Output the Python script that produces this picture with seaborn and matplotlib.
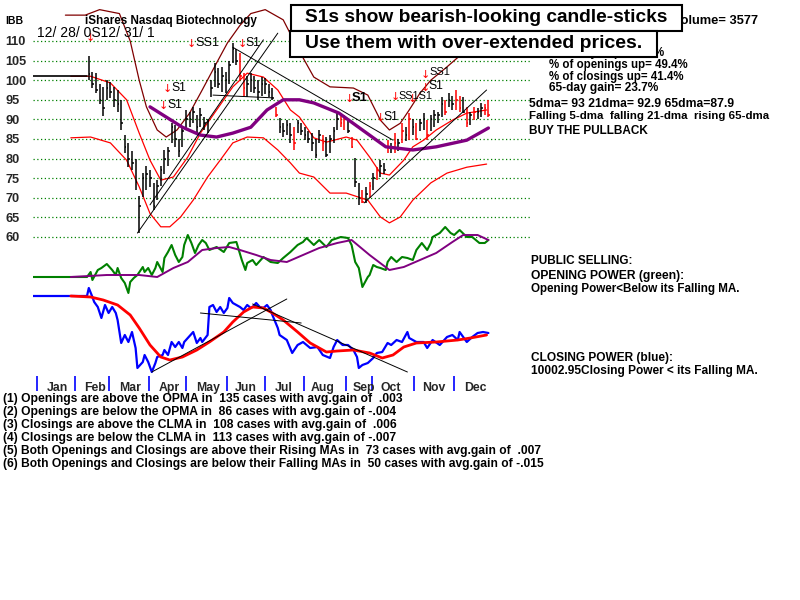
import numpy as np
import pandas as pd
import matplotlib
matplotlib.use("Agg")
import matplotlib.pyplot as plt
from matplotlib.patches import Rectangle
import seaborn as sns

# ---------------- data ----------------
ticker = "IBB"
chart_title = "iShares Nasdaq Biotechnology"
date_range = "12/ 28/ 0S12/ 31/ 1"
price_ticks = [60, 65, 70, 75, 80, 85, 90, 95, 100, 105, 110]

pre_days = [0, 30]
pre_price = [101, 101]

bar_hi = [106.2, 102, 101.8, 99, 98.3, 100, 99.5, 98.3, 97.5, 95,
          86, 84, 82, 80, 70.5, 76.3, 78, 77, 73.8, 74.5,
          78, 82.2, 83, 89, 88.5, 85, 88, 92.4, 92, 93.2,
          91, 93, 90.6, 90, 100, 104.4, 103, 103.4, 102, 105,
          109.5, 108, 107, 101.8, 101, 101.8, 101, 100, 100.8, 100.5,
          99, 98, 93.2, 90.4, 89, 89.8, 89, 88, 89.8, 89,
          88, 87, 86.5, 85, 87.3, 86, 85.5, 86, 88, 91.6,
          91, 91.1, 90, 85.5, 80.2, 73.8, 72, 72.8, 74, 76.3,
          77.9, 79.6, 79, 84.7, 84, 86.5, 85, 89, 88, 91.6,
          90, 89, 90, 91.6, 89.8, 91, 92.4, 92, 95.7, 95,
          96.7, 96, 97.5, 96, 95.7, 93.2, 92, 93.2, 93, 94.2, 94, 95]
bar_lo = [100, 98, 96.7, 94, 90.8, 95, 95.5, 93.2, 92, 87.3,
          81.4, 77.9, 77, 72, 61, 70.2, 72, 72.8, 66.9, 69.4,
          73, 76, 78, 84, 83, 80.4, 83, 87.3, 88, 89,
          86, 88, 87.3, 86.5, 95.7, 98.3, 98, 97, 96.7, 99,
          104.4, 104, 100, 96, 95.7, 97, 96.7, 95, 96, 96.5,
          95.7, 95, 90.6, 86.5, 85.5, 86, 84, 82.2, 86.5, 86,
          84.7, 84, 82, 80.2, 84, 82, 80.4, 81.5, 84, 87.3,
          88, 87.3, 86.5, 82.7, 72.8, 68.2, 68.7, 68.7, 70, 72,
          74.5, 75.3, 76, 81.4, 81.4, 81.4, 82, 84, 84.5, 84.7,
          86, 84.7, 87, 87.3, 84.7, 87, 88, 89, 90.6, 91,
          93.2, 92.4, 92.4, 92, 91.6, 88, 88.5, 89.8, 90, 90.6, 91, 90.6]
bar_close = [101.5, 99, 97.5, 95, 93, 98, 97, 95, 94, 89,
             83, 80, 79, 74, 68, 75, 76, 75, 68, 73,
             77, 80, 82, 88, 85, 82, 87, 90, 90, 92,
             88, 91, 89, 89.5, 98, 102, 99, 101, 100, 104,
             108, 105, 101, 98, 99, 100, 98, 97, 99, 99,
             97, 95.5, 91, 88, 87, 88.5, 86, 84, 89, 87,
             86, 85, 84, 81, 86, 84, 81, 85, 87, 90,
             89, 90, 87, 83, 74, 70, 69, 71, 73, 75,
             77, 78, 77, 83, 83, 84, 84, 87, 86, 90,
             88, 85, 89, 90, 86, 90, 91, 91, 94, 92,
             95, 94, 95, 93, 92, 89, 91, 92, 92, 93, 93, 91]
down_bars = [42, 43, 52, 57, 65, 70, 71, 73, 76, 78, 80, 83, 85, 87, 89,
             91, 94, 99, 102, 103, 105, 107, 110, 111]

ma21_days = [21, 32, 43, 52, 59, 65, 71, 78, 86, 93, 102, 111, 119, 128, 136, 143,
             148, 156, 163, 174, 180, 187, 193, 198, 206, 211, 217, 224, 233, 241, 252]
ma21_vals = [101, 101, 99.3, 95, 86.5, 79.6, 74.5, 75.3, 80.4, 86.5, 92.4, 98.3, 101.8,
             100.8, 97.5, 92.4, 90.6, 85.3, 84.2, 85.5, 84.7, 80.4, 76.3, 75.8, 79.6,
             83, 84.7, 87.3, 89.8, 91.6, 92.4]
lband_days = [21, 32, 43, 52, 59, 65, 71, 76, 82, 89, 97, 104, 111, 119, 128, 136, 143,
              148, 156, 165, 174, 186, 193, 198, 204, 211, 221, 230, 241, 252]
lband_vals = [85.3, 85.5, 84, 79.6, 72.8, 66, 62.6, 62.6, 65.1, 69.4, 75.3, 79.6, 84,
              85.5, 85.3, 82.2, 78.9, 76.3, 75.3, 71.2, 71.2, 69.4, 65.1, 63.6, 65.1,
              69.4, 73.8, 76.3, 77.8, 78.6]
uband_days = [18, 29, 37, 48, 54, 59, 63, 69, 74, 80, 87, 94, 102, 108, 115, 121, 129,
              139, 147, 156, 165, 178, 186, 193, 198, 204, 209, 215, 221, 230, 237, 246, 253]
uband_vals = [116.6, 116.6, 118, 117, 110, 100, 93.2, 87.3, 85.5, 87.3, 91.6, 97.5,
              104.4, 109.5, 114, 117, 118, 115.4, 108.2, 100.8, 98.3, 98, 96.2, 89.8,
              87.3, 89, 92.4, 96.7, 100, 103.4, 106.2, 110.3, 114]
ma65_days = [65, 74, 83, 93, 102, 111, 121, 130, 139, 148, 156, 170, 183, 196, 211,
             224, 241, 248, 253]
ma65_vals = [93.2, 90.6, 88, 86, 85.5, 86.5, 88, 92.4, 95, 95, 94.2, 91.6, 87.3, 83,
             82.2, 83, 84.7, 86.5, 87.8]

# trend lines drawn on the price panel: (day0, day1), (price0, price1)
price_trends = [((58, 136), (61, 112)), ((65, 128), (68.2, 110.3)),
                ((111, 200), (108.4, 84.7)), ((100, 133), (96.2, 95.5)),
                ((184, 252), (68.7, 97.5))]

# Opening power (green) and its MA (purple), arbitrary units
op_days = [0, 30, 32, 33, 36, 38, 41, 44, 46, 47, 49, 51, 53, 54, 56, 58, 61, 62, 64, 66,
           68, 69, 72, 73, 75, 77, 79, 81, 83, 84, 86, 88, 90, 92, 94, 96, 98, 102, 106, 109,
           113, 116, 118, 119, 122, 124, 128, 132, 136, 139, 143, 147, 150, 152, 156, 159,
           163, 166, 171, 175, 177, 179, 181, 183, 186, 187, 189, 191, 193, 196, 197, 199,
           202, 205, 208, 211, 213, 216, 219, 221, 222, 226, 229, 232, 234, 237, 241, 244,
           248, 251, 253]
op_vals = [23, 23, 28, 20, 30, 32, 36, 30, 25, 32, 22, 17, 7, 18, 22, 25, 33, 28, 32, 25,
           32, 38, 28, 42, 48, 55, 45, 38, 43, 55, 65, 57, 47, 55, 60, 57, 50, 53, 48, 57,
           58, 40, 30, 37, 40, 35, 43, 38, 37, 42, 48, 55, 58, 62, 55, 60, 53, 60, 63, 62,
           55, 38, 32, 13, 23, 25, 35, 33, 32, 30, 38, 43, 38, 43, 42, 40, 50, 57, 50, 57,
           63, 67, 73, 67, 65, 70, 63, 63, 57, 57, 60]
opma_days = [21, 41, 59, 69, 78, 86, 94, 102, 109, 115, 124, 132, 141, 150, 159, 169, 177,
             187, 198, 206, 215, 224, 233, 239, 247, 253]
opma_vals = [23, 25, 25, 23, 32, 38, 50, 52, 53, 50, 45, 40, 38, 45, 52, 57, 60, 45, 30,
             33, 40, 47, 58, 65, 65, 60]

# Closing power (blue) and its MA (red), arbitrary units
cp_days = [0, 30, 31, 33, 34, 36, 38, 40, 42, 44, 46, 47, 49, 51, 53, 55, 57, 58, 61, 62,
           64, 66, 68, 69, 72, 73, 75, 77, 79, 81, 83, 84, 86, 89, 91, 93, 94, 97, 98, 100,
           102, 104, 106, 108, 109, 111, 113, 115, 117, 119, 121, 122, 124, 126, 128, 130,
           132, 133, 136, 137, 141, 144, 147, 150, 154, 158, 161, 165, 167, 169, 172, 175,
           178, 180, 181, 183, 186, 189, 191, 194, 197, 199, 202, 205, 208, 209, 213, 217,
           219, 222, 226, 230, 233, 236, 237, 241, 244, 247, 250, 253]
cp_vals = [84, 84, 92, 83, 78, 73, 62, 75, 67, 73, 67, 60, 37, 45, 38, 48, 32, 12, 18, 25,
           18, 8, 17, 23, 25, 30, 25, 38, 33, 38, 32, 38, 42, 48, 37, 42, 38, 45, 73, 75,
           68, 73, 67, 72, 82, 77, 75, 73, 70, 75, 72, 73, 77, 73, 72, 75, 70, 65, 52, 45,
           40, 27, 35, 38, 32, 33, 25, 22, 33, 40, 35, 35, 30, 23, 12, 15, 17, 22, 27, 28,
           37, 35, 40, 38, 48, 42, 38, 38, 32, 40, 35, 43, 45, 40, 48, 38, 43, 47, 48, 47]
cpma_days = [21, 32, 39, 47, 54, 59, 65, 71, 76, 83, 91, 98, 106, 111, 117, 122, 128, 133,
             139, 147, 154, 163, 169, 178, 187, 194, 200, 206, 213, 224, 236, 243, 252]
cpma_vals = [84, 83, 80, 75, 65, 52, 35, 23, 20, 23, 30, 38, 48, 58, 68, 73, 72, 67, 60,
             48, 37, 28, 29, 30, 27, 22, 25, 33, 37, 38, 40, 42, 45]
cp_trends = [((66, 141), (8, 81)), ((93, 149), (67, 57)), ((122, 208), (76, 8))]

months = ["Jan", "Feb", "Mar", "Apr", "May", "Jun", "Jul", "Aug", "Sep", "Oct", "Nov", "Dec"]
month_ticks = [2.2, 23.3, 42.2, 64.4, 85, 107.8, 128.9, 150.6, 173.9, 188.3, 211.7, 233.9]
month_label_days = [13.3, 34.4, 53.9, 75.6, 97.2, 118.3, 139.4, 161.1, 183.9, 198.9, 222.8, 245.6]

headline_1 = "S1s show bearish-looking candle-sticks"
headline_2 = "Use them with over-extended prices."
stats_right = ["% of openings up= 49.4%", "% of closings up= 41.4%", "65-day gain= 23.7%"]
ma_lines = ["5dma= 93 21dma= 92.9 65dma=87.9", "Falling 5-dma  falling 21-dma  rising 65-dma",
            "BUY THE PULLBACK"]
bottom_stats = [
    "(1) Openings are above the OPMA in  135 cases with avg.gain of  .003",
    "(2) Openings are below the OPMA in  86 cases with avg.gain of -.004",
    "(3) Closings are above the CLMA in  108 cases with avg.gain of  .006",
    "(4) Closings are below the CLMA in  113 cases with avg.gain of -.007",
    "(5) Both Openings and Closings are above their Rising MAs in  73 cases with avg.gain of  .007",
    "(6) Both Openings and Closings are below their Falling MAs in  50 cases with avg.gain of -.015",
]

# ---------------- figure ----------------
sns.set_style("white")
WIDE = ["Liberation Sans", "DejaVu Sans"]
NARROW = ["Liberation Sans Narrow", "Liberation Sans", "DejaVu Sans"]
plt.rcParams["font.family"] = WIDE

W, H = 800, 600
fig = plt.figure(figsize=(8, 6), dpi=100)
fig.patch.set_facecolor("white")
R = fig.canvas.get_renderer()


def fx(x):
    return x / W


def fy(y):
    return 1 - y / H


DAY_PX = 1.8
XMAX = 497 / DAY_PX


def put(x, y, s, width=None, size=9, family=WIDE, weight="bold", color="black",
        ha="left", zorder=10):
    t = fig.text(fx(x), fy(y), s, fontsize=size, family=family, weight=weight,
                 color=color, ha=ha, va="center", zorder=zorder)
    if width:
        w = t.get_window_extent(renderer=R).width
        t.set_fontsize(size * width / w)
    return t


def line(ax, xs, ys, color, lw, z=3):
    sns.lineplot(x=xs, y=ys, ax=ax, color=color, lw=lw, sort=False,
                 estimator=None, zorder=z, legend=False)


def bare(ax):
    for s in ax.spines.values():
        s.set_visible(False)
    ax.patch.set_alpha(0)
    ax.set_xlabel("")
    ax.set_ylabel("")


# price panel
ax = fig.add_axes([fx(33), fy(240), 497 / W, 240 / H])
ax.set_xlim(0, XMAX)
ax.set_ylim(59.23, 120.46)
ax.set_yticks(price_ticks)
ax.set_yticklabels([str(v) for v in price_ticks], fontsize=9.2, weight="bold", family=WIDE)
for lab in ax.get_yticklabels():
    lab.set_ha("left")
ax.tick_params(axis="y", length=0, pad=20)
ax.set_xticks([])
ax.grid(axis="y", color="#008000", linestyle=(0, (1, 2)), lw=0.9)
ax.set_axisbelow(True)

line(ax, pre_days, pre_price, "black", 1.2)
line(ax, uband_days, uband_vals, "#800000", 0.9, 2)
line(ax, lband_days, lband_vals, "#ff0000", 0.9, 2)
line(ax, ma21_days, ma21_vals, "#ff0000", 0.9, 2)

bar_days = np.arange(31, 31 + 2 * len(bar_hi), 2)
cols = ["#ff0000" if i in down_bars else "black" for i in range(len(bar_hi))]
ax.vlines(bar_days, bar_lo, bar_hi, colors=cols, lw=1.1, zorder=3)
ax.hlines(bar_close, bar_days, bar_days + 0.9, colors=cols, lw=1.1, zorder=3)

line(ax, ma65_days, ma65_vals, "#800080", 2.4, 4)
for (dx, py) in price_trends:
    ax.plot(dx, py, color="black", lw=0.7, zorder=4)
bare(ax)
ax.set_xticks([])

# opening power panel
ax2 = fig.add_axes([fx(33), fy(300), 497 / W, 80 / H])
ax2.set_xlim(0, XMAX)
ax2.set_ylim(0, 80)
line(ax2, op_days, op_vals, "#008000", 1.5, 3)
line(ax2, opma_days, opma_vals, "#800080", 1.4, 4)
ax2.set_xticks([]); ax2.set_yticks([])
bare(ax2)

# closing power panel
ax3 = fig.add_axes([fx(33), fy(380), 497 / W, 100 / H])
ax3.set_xlim(0, XMAX)
ax3.set_ylim(0, 100)
line(ax3, cp_days, cp_vals, "#0000ff", 1.6, 3)
line(ax3, cpma_days, cpma_vals, "#ff0000", 2.0, 4)
for (dx, py) in cp_trends:
    ax3.plot(dx, py, color="black", lw=0.7, zorder=5)
ax3.set_xticks([]); ax3.set_yticks([])
bare(ax3)

# month axis
ax4 = fig.add_axes([fx(33), fy(392), 497 / W, 16 / H])
ax4.set_xlim(0, XMAX)
ax4.set_ylim(0, 1)
ax4.vlines(month_ticks, 0.05, 1.0, colors="#0000ff", lw=1.2)
mt = []
for d, m in zip(month_label_days, months):
    mt.append(ax4.text(d, 0.25, m, ha="center", va="center", fontsize=9,
                       weight="bold", family=NARROW))
w = mt[0].get_window_extent(renderer=R).width
for t in mt:
    t.set_fontsize(9 * 21 / w)
ax4.set_xticks([]); ax4.set_yticks([])
bare(ax4)

# ---------------- texts ----------------
put(5, 21, ticker, width=18)
put(85, 21, chart_title, width=172)
put(37, 33, date_range, width=118, weight="normal")

s1_labels = [("SS1", 195, 43, 24), ("S1", 245, 43, 15), ("S1", 171, 88, 15),
             ("S1", 167, 105, 15), ("S1", 383, 117, 15), ("SS1S1", 398, 96, 34),
             ("S1", 428, 86, 15), ("SS1", 429, 72, 21)]
for (s, x, y, wd) in s1_labels:
    put(x, y, s, width=wd, weight="normal", zorder=8)
put(352, 98, "S1", width=16, weight="bold", zorder=8)
arrows = [(90, 38), (191, 44), (242, 44), (167, 89), (163, 106), (349, 99), (380, 118),
          (395, 97), (412, 99), (425, 88), (425, 75)]
for (x, y) in arrows:
    fig.text(fx(x), fy(y), "\u2193", color="#ff0000", fontsize=8, family="DejaVu Sans",
             ha="center", va="center", zorder=9)

# headline boxes
fig.add_artist(Rectangle((fx(291), fy(31)), 391 / W, 26 / H, transform=fig.transFigure,
                         facecolor="white", edgecolor="black", lw=1.5, zorder=20))
fig.add_artist(Rectangle((fx(290), fy(57)), 367 / W, 26 / H, transform=fig.transFigure,
                         facecolor="white", edgecolor="black", lw=1.5, zorder=20))
put(305, 18, headline_1, width=361, size=12, zorder=21)
put(305, 44, headline_2, width=336, size=12, zorder=21)

put(673, 21, "Volume= 3577", width=85, zorder=5)
put(549, 53, "% of days up= 44.6%", width=116, zorder=5)
for i, s in enumerate(stats_right):
    put(549, 65 + 11.6 * i, s, width=[139, 135, 109][i])
put(529, 104, ma_lines[0], width=204)
put(529, 116, ma_lines[1], width=239)
put(529, 131, ma_lines[2], width=119)

put(531, 261, "PUBLIC SELLING:", width=102)
put(531, 276, "OPENING POWER (green):", width=154)
put(531, 289, "Opening Power<Below its Falling MA.", width=209)
put(531, 358, "CLOSING POWER (blue):", width=143)
put(531, 371, "10002.95Closing Power < its Falling MA.", width=227)

widths = [400, 394, 395, 393, 537, 537]
for i, s in enumerate(bottom_stats):
    put(3, 399 + 12.9 * i, s, width=widths[i], family=NARROW)

fig.savefig("out.png", dpi=100, facecolor="white")
